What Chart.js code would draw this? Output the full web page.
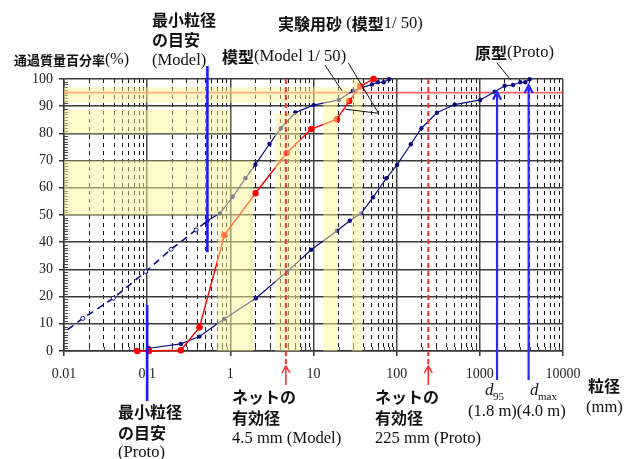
<!DOCTYPE html>
<html><head><meta charset="utf-8">
<script src="https://cdn.jsdelivr.net/npm/chart.js@4.4.1/dist/chart.umd.min.js"></script>
<style>html,body{margin:0;padding:0;background:#fff;}canvas{display:block}</style>
</head><body>
<canvas id="c" width="637" height="459"></canvas>
<script>
// ---- data ----
const xDecadeLabels = ['0.01','0.1','1','10','100','1000','10000'];
const yTickValues = [0,10,20,30,40,50,60,70,80,90,100];

// prototype grading curve (原型)
const protoSize = [0.105,0.254,0.425,0.84,2.03,4.82,9.38,19.2,27.3,37.5,51.9,75,101,148,198,305,498,1010,1510,1990,2510,3070,3520,3970];
const protoPass = [1.0,2.6,5.3,11.8,19.4,29.2,37.2,44.2,47.9,50.6,56.5,63.5,68.4,76.0,81.9,87.6,90.6,92.3,95.3,97.5,97.8,98.8,98.8,99.9];

// model curve (模型 1/50), dashed part and solid part
const modelDashSize = [0.0085,0.0168,0.0392,0.096,0.194,0.387,0.53];
const modelDashPass = [5.3,12.0,19.4,29.2,37.4,44.5,47.9];
const modelSize = [0.53,0.75,1.07,1.52,2.0,2.96,4.05,6.05,10.0,20.2,29.8,50.5,59.5,69.7,81];
const modelPass = [47.9,50.6,56.7,63.5,68.5,76.1,81.9,87.7,90.4,92.3,95.7,98.0,98.8,98.8,99.9];

// experimental sand (実験用砂)
const sandSize = [0.076,0.105,0.254,0.425,0.85,2.0,4.75,9.4,19.1,26.9,36.5,52.7];
const sandPass = [0,0,0.3,8.7,42.6,58.0,72.8,81.6,85.2,91.9,97.3,100];

// reference sizes (mm) and level (%)
const minGrainModel = [0.53];
const minGrainProto = [0.1];
const netSizes = [4.65, 240];
const d95Size = [1610];
const dMaxSize = [3860];
const level95 = [95];

// shaded boxes [x0, x1, y0, y1] in data units
const shadeBoxes = [
  [0.01,27,91.4,97],[0.01,1.0,80,88.6],[0.01,1.88,50,70],[0.69,1.88,0,50],
  [3.46,6.9,0,87.5],[13.1,19.3,0,91.4],[29.2,38.5,0,100]
];

// ---- helpers ----
const xGrid = [];
for (let k = -2; k <= 3; k++) for (let m = 1; m <= 9; m++) xGrid.push(m * Math.pow(10, k));
xGrid.push(10000);
const isDec = v => Math.abs(Math.log10(v) - Math.round(Math.log10(v))) < 1e-6;
const pts = (xs, ys) => xs.map((x, i) => ({x, y: ys[i]}));

const NAVY = '#0b0b84';
const CJK = 'bold 16px "Noto Sans CJK JP"';
const SER = '16.6px "Liberation Serif"';

function mixed(ctx, parts, x, y) {
  let cx = x;
  for (const [t, f] of parts) { ctx.font = f; ctx.fillText(t, cx, y); cx += ctx.measureText(t).width; }
}

const deco = {
  id: 'deco',
  beforeDatasetsDraw(c) {
    const {ctx, chartArea: a, scales: {x, y}} = c;
    ctx.save();
    ctx.strokeStyle = '#444'; ctx.lineWidth = 1;
    ctx.beginPath();
    for (let v = 1; v < 100; v++) {
      if (v % 10 === 0) continue;
      const py = Math.round(y.getPixelForValue(v)) + 0.5;
      ctx.moveTo(a.left, py); ctx.lineTo(a.left + 4, py);
    }
    xGrid.forEach(v => {
      if (isDec(v)) return;
      const px = Math.round(x.getPixelForValue(v)) + 0.5;
      ctx.moveTo(px, a.bottom); ctx.lineTo(px, a.bottom - 4);
    });
    ctx.stroke();
    const p95 = y.getPixelForValue(level95[0]);
    ctx.strokeStyle = 'rgba(255,60,60,0.8)'; ctx.lineWidth = 1.6;
    ctx.beginPath(); ctx.moveTo(a.left, p95); ctx.lineTo(a.right, p95); ctx.stroke();
    ctx.restore();
  },
  afterDatasetsDraw(c) {
    const {ctx, chartArea: a, scales: {x, y}} = c;
    ctx.save();
    // yellow translucent boxes
    ctx.fillStyle = 'rgba(255,245,150,0.5)';
    ctx.beginPath();
    shadeBoxes.forEach(([x0, x1, y0, y1]) => {
      const px0 = x.getPixelForValue(x0), px1 = x.getPixelForValue(x1);
      const py0 = y.getPixelForValue(y1), py1 = y.getPixelForValue(y0);
      ctx.rect(px0, py0, px1 - px0, py1 - py0);
    });
    ctx.fill();
    // red dashed net lines with arrows
    netSizes.forEach(v => {
      const px = x.getPixelForValue(v);
      ctx.strokeStyle = '#ff2a2a'; ctx.lineWidth = 2;
      ctx.setLineDash([5, 3]);
      ctx.beginPath(); ctx.moveTo(px, a.top); ctx.lineTo(px, a.bottom + 13); ctx.stroke();
      ctx.setLineDash([]);
      ctx.lineWidth = 1.5;
      ctx.beginPath();
      ctx.moveTo(px, a.bottom + 16); ctx.lineTo(px, a.bottom + 34);
      ctx.moveTo(px - 4, a.bottom + 22); ctx.lineTo(px, a.bottom + 15); ctx.lineTo(px + 4, a.bottom + 22);
      ctx.stroke();
    });
    // blue minimum grain lines
    ctx.strokeStyle = '#1a1aff'; ctx.lineWidth = 2.6;
    let px = x.getPixelForValue(minGrainModel[0]);
    ctx.beginPath(); ctx.moveTo(px, a.top - 13); ctx.lineTo(px, y.getPixelForValue(36.3)); ctx.stroke();
    px = x.getPixelForValue(minGrainProto[0]);
    ctx.beginPath(); ctx.moveTo(px, y.getPixelForValue(16.9)); ctx.lineTo(px, a.bottom + 50); ctx.stroke();
    // d95 / dmax arrows
    ctx.strokeStyle = '#2a2aff'; ctx.lineWidth = 2.2;
    [[d95Size[0], 95.3], [dMaxSize[0], 97.8]].forEach(([v, top]) => {
      const qx = x.getPixelForValue(v), qy = y.getPixelForValue(top);
      ctx.beginPath();
      ctx.moveTo(qx, a.bottom + 29); ctx.lineTo(qx, qy);
      ctx.moveTo(qx - 4, qy + 8); ctx.lineTo(qx, qy); ctx.lineTo(qx + 4, qy + 8);
      ctx.stroke();
    });
    // leader lines
    ctx.strokeStyle = '#111'; ctx.lineWidth = 1;
    const seg = (pp) => {
      ctx.beginPath();
      pp.forEach(([vx, vy], i) => {
        const X = x.getPixelForValue(vx), Y = y.getPixelForValue(vy);
        i ? ctx.lineTo(X, Y) : ctx.moveTo(X, Y);
      });
      ctx.stroke();
    };
    seg([[1600, 106], [2360, 99.6]]);
    seg([[13.8, 105], [22, 95.7]]);
    seg([[26.2, 105.9], [60.5, 87.4], [24.0, 88.9]]);
    ctx.restore();
  },
  afterDraw(c) {
    const ctx = c.ctx;
    ctx.save();
    ctx.fillStyle = '#111';
    ctx.textBaseline = 'middle';
    ctx.textAlign = 'left';
    mixed(ctx, [['通過質量百分率', 'bold 13px "Noto Sans CJK JP"'], ['(%)', '16px "Liberation Serif"']], 14, 60);
    mixed(ctx, [['最小粒径', CJK]], 152, 20);
    mixed(ctx, [['の目安', CJK]], 152, 40);
    mixed(ctx, [['(Model)', SER]], 152, 61);
    mixed(ctx, [['模型', CJK], ['(Model 1/ 50)', SER]], 222, 57);
    mixed(ctx, [['実験用砂', CJK], [' (', SER], ['模型', CJK], ['1/ 50)', SER]], 278, 24);
    mixed(ctx, [['原型', CJK], ['(Proto)', SER]], 475, 53);
    mixed(ctx, [['最小粒径', CJK]], 118, 412);
    mixed(ctx, [['の目安', CJK]], 118, 433);
    mixed(ctx, [['(Proto)', SER]], 118, 453);
    mixed(ctx, [['ネットの', CJK]], 232, 397);
    mixed(ctx, [['有効径', CJK]], 232, 418);
    mixed(ctx, [['4.5 mm (Model)', SER]], 232, 439);
    mixed(ctx, [['ネットの', CJK]], 375, 397);
    mixed(ctx, [['有効径', CJK]], 375, 418);
    mixed(ctx, [['225 mm (Proto)', SER]], 375, 439);
    mixed(ctx, [['粒径', CJK]], 588, 386);
    mixed(ctx, [['(mm)', SER]], 586, 408);
    mixed(ctx, [['d', 'italic 17px "Liberation Serif"']], 485, 391);
    mixed(ctx, [['95', '11px "Liberation Serif"']], 493, 397);
    mixed(ctx, [['d', 'italic 17px "Liberation Serif"']], 530, 391);
    mixed(ctx, [['max', '11px "Liberation Serif"']], 538, 397);
    mixed(ctx, [['(1.8 m)(4.0 m)', SER]], 468, 412);
    ctx.restore();
  }
};

new Chart(document.getElementById('c'), {
  type: 'line',
  data: {
    datasets: [
      { label: '実験用砂', data: pts(sandSize, sandPass), borderColor: '#ff0000', backgroundColor: '#ff0000',
        borderWidth: 1.4, pointRadius: 3.3, pointBorderWidth: 0, clip: 8 },
      { label: '模型', data: pts(modelSize, modelPass), borderColor: NAVY, backgroundColor: NAVY,
        borderWidth: 1.2, pointRadius: 2.2, pointBorderWidth: 0, clip: 6 },
      { label: '模型(外挿)', data: pts(modelDashSize, modelDashPass), borderColor: NAVY, backgroundColor: '#ffffff',
        borderWidth: 1.6, borderDash: [7, 5], pointBorderColor: NAVY, pointBorderWidth: 1,
        pointRadius: ctx => ctx.dataIndex === modelDashSize.length - 1 ? 0 : 2 },
      { label: '原型', data: pts(protoSize, protoPass), borderColor: NAVY, backgroundColor: NAVY,
        borderWidth: 1.2, pointRadius: 2.2, pointBorderWidth: 0, clip: 6 }
    ]
  },
  options: {
    responsive: false, animation: false, devicePixelRatio: 1,
    layout: { padding: { top: 79, right: 74, left: 0, bottom: 0 } },
    plugins: { legend: { display: false }, tooltip: { enabled: false } },
    scales: {
      x: {
        type: 'logarithmic', min: 0.01, max: 10000,
        afterBuildTicks: s => { s.ticks = xGrid.map(v => ({ value: v })); },
        afterFit: s => { s.height = 108; },
        ticks: {
          autoSkip: false, maxRotation: 0, minRotation: 0, padding: 10, color: '#222',
          font: { family: 'Liberation Serif', size: 14 },
          callback: v => isDec(v) ? xDecadeLabels[Math.round(Math.log10(v)) + 2] : ''
        },
        grid: {
          color: ctx => (ctx.tick && isDec(ctx.tick.value)) ? '#444' : '#111',
          lineWidth: ctx => (ctx.tick && isDec(ctx.tick.value)) ? 1.5 : 1,
          tickLength: 5,
          tickColor: ctx => (ctx.tick && isDec(ctx.tick.value)) ? '#333' : 'rgba(0,0,0,0)'
        },
        border: { display: true, color: '#333', width: 1.5,
          dash: ctx => (ctx.tick && !isDec(ctx.tick.value)) ? [4, 4] : [] }
      },
      y: {
        min: 0, max: 100,
        afterBuildTicks: s => { s.ticks = yTickValues.map(v => ({ value: v })); },
        afterFit: s => { s.width = 64; },
        ticks: { padding: 6, color: '#222', font: { family: 'Liberation Serif', size: 14 } },
        grid: { color: '#3a3a3a', lineWidth: 1.5, tickLength: 5, tickColor: '#333' },
        border: { display: true, color: '#333', width: 1.5 }
      }
    }
  },
  plugins: [deco]
});
</script>
</body></html>
